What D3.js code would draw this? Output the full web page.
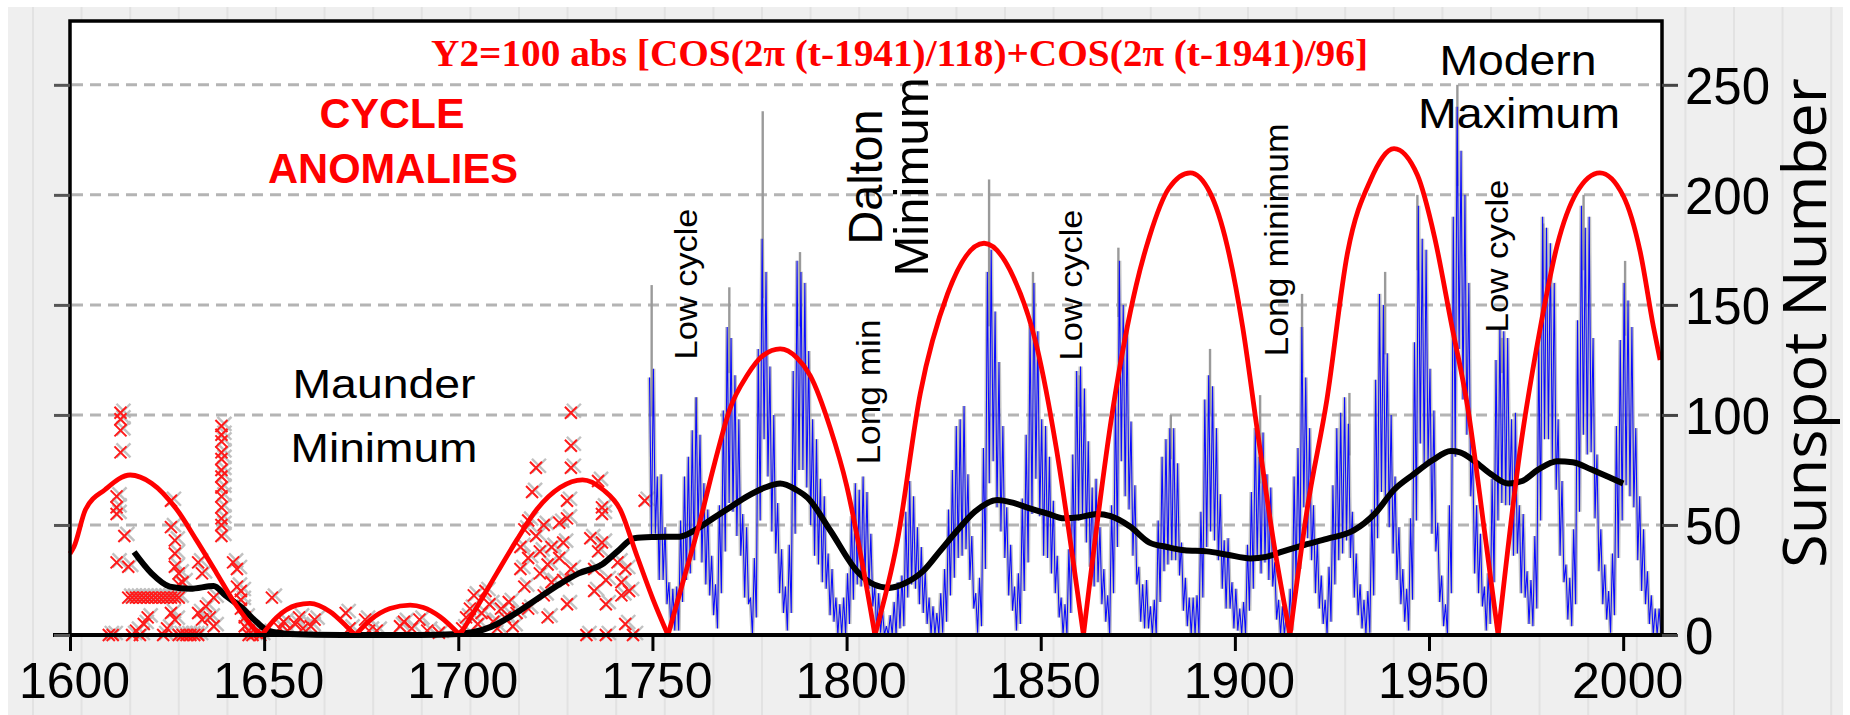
<!DOCTYPE html>
<html><head><meta charset="utf-8">
<script src="https://cdn.jsdelivr.net/npm/d3@7"></script>
<style>body{margin:0;background:#fff}svg{display:block}</style>
</head><body>
<svg id="c" width="1850" height="715"></svg>
<script>
// ---------------- DATA ----------------
const xTicks = [1600,1650,1700,1750,1800,1850,1900,1950,2000];
const yTicks = [0,50,100,150,200,250];

// Red model curve Y2 (year, value)
const redYears = [1600,1601,1604,1609,1615.5,1621,1627.5,1632.6,1637.8,1643,1648,1649.4,
  1653.2,1658.4,1661.8,1667,1671.3,1673.5,1677.3,1682.4,1687.6,1691,1695.3,1700.4,
  1704.8,1709.9,1715,1720.2,1726.2,1732,1737.3,1741.7,1746,1750.2,1754,
  1758,1762,1766,1770,1774.4,1778.5,1782.9,1787.2,1790.6,1795.8,1800,1804,1807.3,
  1813,1819,1826,1835.4,1843,1849,1854,1858,1861,
  1868.6,1874.6,1878,1883,1888.5,1893.6,1898,1902,1905.7,1910,1914.2,
  1918.6,1923.7,1929,1935,1941,1947,1951.4,1955.7,1960,1964.3,1967.8,
  1973.5,1978.7,1983,1988,1994,2000,2004.4,2007.8,2009.5];
const redValues = [37,40,57,66,72.7,69,57,43,28,13,2,0,
  8,13.6,14.4,10.6,3.8,0,6.8,12,13.6,12.5,8.3,0,
  12.7,28,43,57,67,70.5,66,57,36,16,0,
  25,50,78,103,118,127,130,126,118,94,68,33,0,
  42,110,155,178,162.5,131,85,38,0,
  103,159,181,203,210,201,177,140,94,42,0,
  57,107,173.6,207,221,209,181,142,103,47,0,
  84.5,140,177,201,210,199.6,174,140,125];

// Black smoothed curve (year, value)
const blackYears = [1616.5,1621,1625.7,1631,1637,1640,1644,1648,1651,1656.7,1670,1690,1700,1708.4,1714,1720,
  1726,1731,1737,1741,1745.3,1750,1757,1761,1765.6,1770,1774.4,1779,1782.9,1787,1790,1795.8,1802.7,1807,
  1811,1815,1819.7,1824,1828.5,1833,1838.8,1843,1847,1852,1856,1860,1864.5,1868,1873,1878,1882.5,1887,
  1892.8,1898,1904,1908,1912.4,1918,1923.7,1930.6,1936,1941,1946,1951,1955.6,1958,1961.7,1966,1970.4,
  1974,1978,1983,1987,1991.7,1996,2000];
const blackValues = [37.7,28,22,21,22.3,18,12.8,6,2,0.5,0,0,0.5,3.7,9,16,
  23,28,32,38,44,44.5,44.7,47.7,53,58,63,67,68.8,66,62.3,47.5,29,23,
  21.4,23.5,29,38,47.5,56,61.4,60,57.7,55,53,53.5,55,54,49.3,42,40,38.5,
  38,36.5,34.8,35.5,38,41,43.7,47.5,55,66,73,79.5,83.6,83,79,73,68.8,
  70,75,79,78.5,75.3,72,68.8];

// Early (group) sunspot observations shown as crosses: [year, value]
const crossObs = [
  [1610,0],[1611,0],[1612,33],[1612,55],[1612,58],[1612,63],[1613,83],[1613,93],[1613,101],[1613,98],[1614,45],[1615,31],[1615,17],
  [1616,17],[1617,17],[1618,17],[1619,17],[1620,17],[1621,17],[1622,17],[1623,17],[1624,17],[1625,17],[1626,17],[1627,17],[1628,17],
  [1616,0],[1617,2],[1618,0],[1619,5],[1620,8],[1624,0],[1625,3],[1628,0],[1629,0],[1630,0],[1631,0],[1632,0],[1633,0],
  [1626,61],[1626,49],[1627,43],[1627,37],[1627,31],[1628,28],[1626,10],[1627,7],[1628,23],[1629,24],
  [1633,33],[1634,28],[1633,10],[1634,7],[1635,13],[1636,8],[1637,17],[1637,4],
  [1639,95],[1639,91],[1639,88],[1639,83],[1639,80],[1639,75],[1639,72],[1639,67],[1639,63],[1639,58],[1639,53],[1639,50],[1639,45],
  [1642,33],[1643,30],[1643,22],[1644,20],[1644,16],[1644,12],[1645,8],[1645,4],[1646,2],[1646,0],[1647,0],[1648,1],[1649,0],
  [1652,17],[1654,3],[1655,6],[1656,2],[1658,5],[1659,8],[1660,3],[1662,4],[1663,7],
  [1671,10],[1672,3],[1676,7],[1677,2],[1679,2],[1685,4],[1686,6],[1688,3],[1690,7],[1692,2],[1695,1],
  [1701,3],[1702,8],[1703,12],[1704,18],[1705,5],[1706,10],[1707,20],[1708,14],[1709,6],[1710,3],[1711,12],
  [1712,8],[1713,15],[1714,4],[1715,10],[1716,30],[1716,40],[1717,22],[1717,48],[1718,35],[1718,52],[1718,12],
  [1719,65],[1720,76],[1720,45],[1721,28],[1721,38],[1722,18],[1722,50],[1723,8],[1723,32],[1724,24],[1724,40],
  [1726,51],[1726,35],[1727,25],[1727,42],[1728,53],[1728,14],[1729,101],[1729,86],[1729,76],[1728,61],[1729,30],
  [1733,0],[1734,44],[1735,30],[1735,20],[1736,70],[1736,38],[1737,58],[1737,55],[1737,42],[1738,25],[1738,14],[1738,0],
  [1741,33],[1742,24],[1742,18],[1743,30],[1744,20],[1745,0],[1743,5],[1748,61]
];

// Monthly sunspot number: highest and lowest month in each year, 1749-2009
const ssnStartYear = 1749;
const ssnHigh = [
  117,121,72,73,49,24,21,22,52,72,
  81,93,108,91,69,57,36,23,59,102,
  140,135,118,98,55,49,17,35,130,180,
  165,122,100,60,39,22,41,120,170,165,
  160,129,98,89,71,63,37,30,17,14,
  17,28,54,69,66,72,65,46,22,19,
  11,4,9,15,24,27,56,70,63,49,
  40,29,17,13,10,19,30,57,75,95,
  98,104,73,45,19,26,85,165,175,147,
  124,95,58,41,22,28,62,91,141,160,
  138,98,95,81,61,36,17,14,39,82,
  120,122,112,88,67,71,49,30,18,59,
  108,170,150,140,97,68,31,23,25,13,
  16,52,81,89,94,94,78,42,26,17,
  17,18,56,107,118,113,94,64,43,44,
  24,21,12,15,41,65,94,81,92,73,
  67,33,16,13,10,21,72,85,140,117,
  94,59,43,27,16,31,68,94,101,108,
  96,56,37,23,16,20,57,116,155,150,
  128,100,72,49,30,21,53,133,195,180,
  175,121,102,51,27,14,59,190,240,220,
  200,160,81,59,46,22,28,71,125,140,
  138,135,98,101,59,55,29,25,45,133,
  190,185,178,160,98,70,32,26,48,143,
  195,185,190,135,82,48,32,20,37,95,
  134,160,152,140,94,63,48,29,18,12,
  12];
const ssnLow = [
  45,46,25,25,14,3,2,2,15,25,
  28,34,48,33,23,18,9,3,19,38,
  60,56,45,36,17,14,0,8,52,89,
  72,47,37,19,10,2,10,46,75,75,
  67,50,36,32,24,21,9,6,0,0,
  0,5,16,23,22,25,21,13,2,1,
  0,0,0,0,3,4,17,23,21,14,
  10,5,0,0,0,1,6,18,26,35,
  36,39,25,12,1,4,30,69,79,58,
  47,35,18,11,2,5,20,33,55,71,
  54,36,35,28,19,8,0,0,10,29,
  52,53,42,31,22,24,14,6,0,19,
  40,79,63,57,36,23,6,3,3,0,
  0,15,29,32,34,34,27,11,4,0,
  0,0,17,40,47,43,34,21,12,12,
  3,2,0,0,11,21,34,28,33,25,
  22,7,0,0,0,2,24,30,58,44,
  34,19,12,5,0,6,23,34,37,43,
  35,17,9,3,0,1,18,44,65,62,
  49,37,25,14,6,2,16,52,87,78,
  77,46,38,15,4,0,19,81,130,107,
  91,63,28,19,13,2,5,24,52,60,
  59,59,36,37,19,17,5,4,12,52,
  89,89,80,66,36,24,7,4,14,56,
  91,82,83,53,29,14,7,1,9,35,
  52,68,63,58,34,20,14,5,0,0,
  0];
// Isolated grey spikes above the blue record: [year, value]
const greySpikes = [[1749.8,159],[1761.3,108],[1769.8,158],[1778.4,238],[1788,174],[1836.7,207],[1848,165],
  [1860,118],[1870,176],[1883.5,100],[1893.6,130],[1906.5,109],[1917.3,155],[1929.5,110],[1938.7,165],
  [1947,200],[1957.3,250],[1968.8,135],[1979.4,187],[1989.8,200],[2000.5,170]];

// ---------------- DRAWING ----------------
const svg = d3.select("#c");
const x = d3.scaleLinear().domain([1600, 2010]).range([70, 1662]);
const y = d3.scaleLinear().domain([0, 279]).range([635, 21]);
const SANS = "'Liberation Sans', Arial, Helvetica, sans-serif";

// page background
svg.append("rect").attr("x",8).attr("y",7).attr("width",1835).attr("height",708).attr("fill","#efefef");
svg.append("g").selectAll("line").data(d3.range(0,38)).join("line")
  .attr("x1",k=>33+48.6*k).attr("x2",k=>33+48.6*k).attr("y1",7).attr("y2",715)
  .attr("stroke","#e2e2e2").attr("stroke-width",2);

// plot area
svg.append("rect").attr("x",70).attr("y",21).attr("width",1592).attr("height",614).attr("fill","#fff");

// gridlines
svg.append("g").selectAll("line").data(yTicks.filter(d=>d>0)).join("line")
  .attr("x1",72).attr("x2",1660).attr("y1",d=>y(d)).attr("y2",d=>y(d))
  .attr("stroke","#b4b4b4").attr("stroke-width",3).attr("stroke-dasharray","11,7");

// crosses
const cross = (g, dx, dy, s, col, w) => {
  g.selectAll("path").data(crossObs).join("path")
    .attr("d", d => { const cx = x(d[0])+dx, cy = y(d[1])+dy;
      return `M${cx-s},${cy-s}L${cx+s},${cy+s}M${cx-s},${cy+s}L${cx+s},${cy-s}`; })
    .attr("stroke", col).attr("stroke-width", w).attr("fill","none");
};
cross(svg.append("g").attr("opacity",0.7), 3, -2, 7, "#a8a8a8", 2.4);
cross(svg.append("g"), 0, 0, 6, "#ff1a1a", 2);

// sunspot record as zig-zag between monthly high and low of each year
const zig = [];
ssnHigh.forEach((h,i) => {
  const yr = ssnStartYear + i;
  zig.push([yr+0.25, h]); zig.push([yr+0.75, ssnLow[i]]);
});
const lineL = d3.line().x(d=>x(d[0])).y(d=>y(d[1]));
svg.append("path").attr("d", lineL(zig)).attr("fill","none")
  .attr("stroke","#9c9c9c").attr("stroke-width",4).attr("opacity",0.6);
svg.append("g").selectAll("line").data(greySpikes).join("line")
  .attr("x1",d=>x(d[0])).attr("x2",d=>x(d[0]))
  .attr("y1",d=>y(ssnHigh[Math.floor(d[0])-ssnStartYear]*0.85)).attr("y2",d=>y(d[1]))
  .attr("stroke","#9a9a9a").attr("stroke-width",2.4);
svg.append("path").attr("d", lineL(zig)).attr("fill","none")
  .attr("stroke","#0a0aff").attr("stroke-width",1.05);

// black smoothed curve
const blackPts = blackYears.map((yr,i)=>[yr, blackValues[i]]);
svg.append("path").attr("d", d3.line().x(d=>x(d[0])).y(d=>y(d[1])).curve(d3.curveMonotoneX)(blackPts))
  .attr("fill","none").attr("stroke","#000").attr("stroke-width",6).attr("stroke-linejoin","round");

// red model curve, drawn arch by arch so the zero points stay sharp
const arches = []; let cur = [];
redYears.forEach((yr,i) => {
  const p = [yr, redValues[i]];
  cur.push(p);
  if (redValues[i] === 0 && cur.length > 1) { arches.push(cur); cur = [p]; }
});
if (cur.length > 1) arches.push(cur);
const redLine = d3.line().x(d=>x(d[0])).y(d=>y(d[1])).curve(d3.curveMonotoneX);
svg.append("g").selectAll("path").data(arches).join("path")
  .attr("d", redLine).attr("fill","none").attr("stroke","#ff0000").attr("stroke-width",4.8);

// frame
svg.append("rect").attr("x",70).attr("y",21).attr("width",1592).attr("height",614)
  .attr("fill","none").attr("stroke","#000").attr("stroke-width",3.5);

// axes
const xAxis = svg.append("g").attr("transform","translate(0,635)")
  .call(d3.axisBottom(x).tickValues(xTicks).tickFormat(d3.format("d")).tickSize(16).tickSizeOuter(0));
xAxis.select(".domain").attr("d","M53,0H1677").attr("stroke","#000").attr("stroke-width",4);
xAxis.selectAll(".tick line").attr("stroke","#000").attr("stroke-width",3);
xAxis.selectAll(".tick text").attr("y",63).attr("dy",null).attr("dx",4)
  .attr("font-family",SANS).attr("font-size",50).attr("fill","#000");

const yAxis = svg.append("g").attr("transform","translate(1662,0)")
  .call(d3.axisRight(y).tickValues(yTicks).tickSize(16).tickPadding(7).tickSizeOuter(0));
yAxis.select(".domain").remove();
yAxis.selectAll(".tick line").attr("stroke","#444").attr("stroke-width",3);
yAxis.selectAll(".tick text").attr("font-family",SANS).attr("font-size",51).attr("fill","#000").attr("dy","0.36em");

const yAxisL = svg.append("g").attr("transform","translate(70,0)")
  .call(d3.axisLeft(y).tickValues(yTicks).tickSize(16).tickFormat(""));
yAxisL.select(".domain").remove();
yAxisL.selectAll(".tick line").attr("stroke","#555").attr("stroke-width",3);

// texts
const txt = (s, tx, ty, o) => {
  const t = svg.append("text").text(s).attr("x",tx).attr("y",ty)
    .attr("font-family", o.family || SANS).attr("font-size", o.size)
    .attr("font-weight", o.weight || "normal").attr("fill", o.fill || "#000")
    .attr("text-anchor", o.anchor || "middle");
  if (o.len) t.attr("textLength", o.len).attr("lengthAdjust","spacingAndGlyphs");
  if (o.rot) t.attr("transform", `rotate(-90,${tx},${ty})`);
  return t;
};
txt("Y2=100 abs [COS(2π (t-1941)/118)+COS(2π (t-1941)/96]", 431, 66,
  {family:"'Liberation Serif','Times New Roman',serif", size:38, weight:"bold", fill:"#ff0000", anchor:"start", len:937});
txt("CYCLE", 392, 128, {size:43, weight:"bold", fill:"#ff0000", len:145});
txt("ANOMALIES", 393, 183, {size:43, weight:"bold", fill:"#ff0000", len:250});
txt("Maunder", 384, 398, {size:40, len:183});
txt("Minimum", 384, 462, {size:40, len:187});
txt("Modern", 1518, 75, {size:42, len:157});
txt("Maximum", 1519, 128, {size:42, len:202});
txt("Dalton", 882, 177, {size:48, len:135, rot:true});
txt("Minimum", 928, 177, {size:48, len:199, rot:true});
txt("Low cycle", 697, 284, {size:32, len:151, rot:true});
txt("Long min", 880, 392, {size:34, len:145, rot:true});
txt("Low cycle", 1082, 285, {size:32, len:151, rot:true});
txt("Long minimum", 1288, 240, {size:34, len:233, rot:true});
txt("Low cycle", 1508, 256, {size:32, len:153, rot:true});
txt("Sunspot Number", 1826, 323, {family:"'Open Sans','Liberation Sans',sans-serif", size:60, len:490, rot:true});
</script>
</body></html>
